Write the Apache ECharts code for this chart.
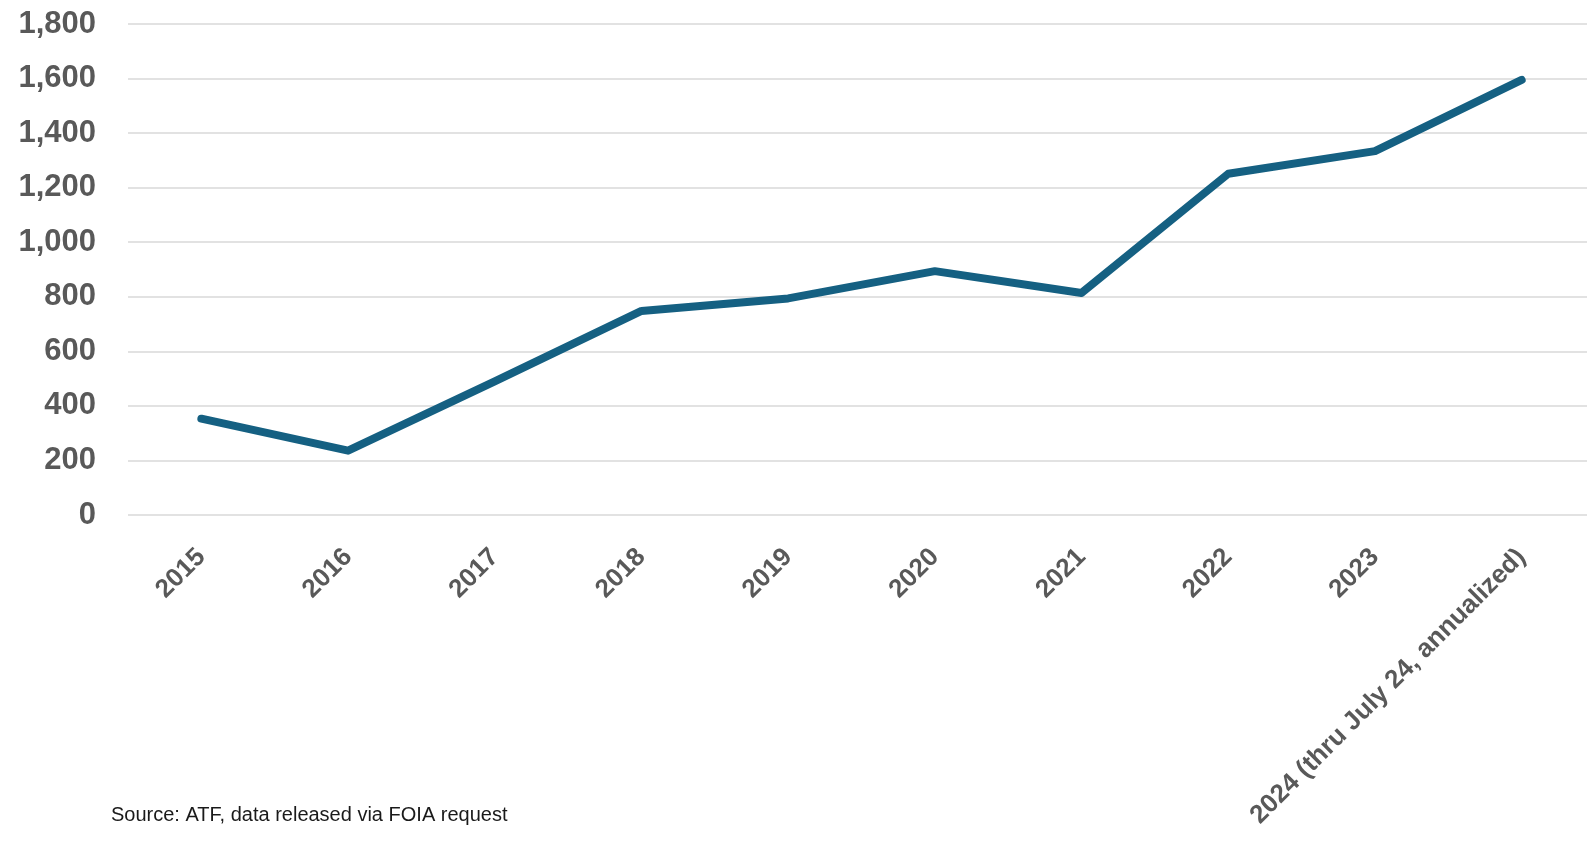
<!DOCTYPE html>
<html>
<head>
<meta charset="utf-8">
<script src="https://cdn.jsdelivr.net/npm/echarts@6/dist/echarts.min.js"></script>
<style>
html,body{margin:0;padding:0;background:#fff;}
#chart{width:1587px;height:841px;}
</style>
</head>
<body>
<div id="chart"></div>
<script>
var categories = ['2015','2016','2017','2018','2019','2020','2021','2022','2023','2024 (thru July 24, annualized)'];
var values = [353, 236, 490, 748, 794, 894, 814, 1251, 1334, 1595];
var yTicks = [0, 200, 400, 600, 800, 1000, 1200, 1400, 1600, 1800];
var sourceNote = 'Source: ATF, data released via FOIA request';

var chart = echarts.init(document.getElementById('chart'), null, {renderer:'canvas'});
chart.setOption({
  animation: false,
  backgroundColor: '#ffffff',
  title: {
    text: sourceNote,
    left: 106, top: 800,
    textStyle: {fontFamily: 'Liberation Sans', fontWeight: 'normal', fontSize: 20, color: '#1a1a1a'}
  },
  grid: {left: 128, right: -8, top: 24, bottom: 326, containLabel: false, outerBoundsMode: 'none'},
  xAxis: {
    type: 'category',
    data: categories,
    boundaryGap: true,
    axisLine: {show: false},
    axisTick: {show: false},
    axisLabel: {
      rotate: 45, interval: 0, margin: 38,
      fontFamily: 'Liberation Sans', fontWeight: 'bold', fontSize: 26, color: '#595959'
    }
  },
  yAxis: {
    type: 'value',
    min: yTicks[0], max: yTicks[yTicks.length-1], interval: 200,
    axisLine: {show: false},
    axisTick: {show: false},
    splitLine: {lineStyle: {color: '#d9d9d9', width: 1.5}},
    axisLabel: {
      margin: 32,
      fontFamily: 'Liberation Sans', fontWeight: 'bold', fontSize: 31, color: '#595959',
      formatter: function(v){ return v.toLocaleString('en-US'); }
    }
  },
  series: [{
    type: 'line',
    data: values,
    symbol: 'none',
    lineStyle: {color: '#156082', width: 8, cap: 'round', join: 'round'}
  }]
});
</script>
</body>
</html>
